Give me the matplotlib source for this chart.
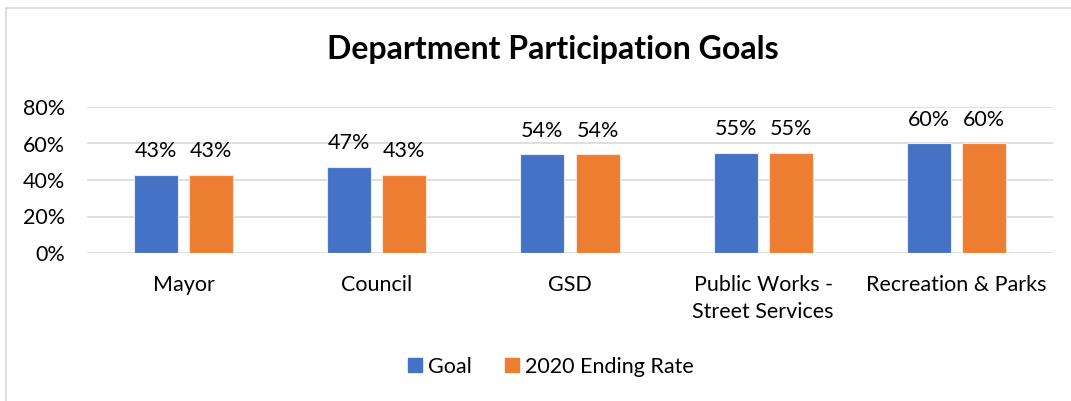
import numpy as np
import matplotlib.pyplot as plt
from matplotlib.patches import Rectangle
from matplotlib.lines import Line2D

# Values
departments = ["Mayor", "Council", "GSD", "Public Works -\nStreet Services", "Recreation & Parks"]
goal = [0.43, 0.47, 0.54, 0.55, 0.60]
ending_rate = [0.43, 0.43, 0.54, 0.55, 0.60]
yticks = [0.0, 0.2, 0.4, 0.6, 0.8]

blue = "#4472C4"
orange = "#ED7D31"
grid_col = "#D9D9D9"
fs = 15.5

plt.rcParams["font.family"] = ["Lato", "DejaVu Sans"]

fig = plt.figure(figsize=(10.71, 4.01), dpi=100)

# light chart-area frame like the Excel export
fig.patches.append(Rectangle((6 / 1071, -0.1), 1.2, 1.0 - 8 / 401 + 0.1,
                             transform=fig.transFigure, fill=False,
                             edgecolor=grid_col, linewidth=1.2))

ax = fig.add_axes([87 / 1071, 1 - 253 / 401, 966 / 1071, 146 / 401])

x = np.arange(len(departments))
w = 0.228
off = 0.143
b1 = ax.bar(x - off, goal, width=w, color=blue, edgecolor="#E6ECF7", linewidth=0.8, zorder=3)
b2 = ax.bar(x + off, ending_rate, width=w, color=orange, edgecolor="#FBE3D3", linewidth=0.8, zorder=3)

for bars, vals in ((b1, goal), (b2, ending_rate)):
    ax.bar_label(bars, labels=[f"{v:.0%}" for v in vals], padding=10,
                 fontsize=fs, color="#000000")

ax.set_xlim(-0.5, len(departments) - 0.5)
ax.set_ylim(0, 0.8)
ax.set_yticks(yticks)
ax.set_yticklabels([f"{v:.0%}" for v in yticks], fontsize=fs)
ax.set_xticks(x)
ax.set_xticklabels(departments, fontsize=fs, linespacing=1.45)
ax.tick_params(axis="both", length=0)
ax.tick_params(axis="x", pad=16)
ax.tick_params(axis="y", pad=16)

ax.grid(axis="y", color=grid_col, linewidth=1.2, zorder=0)
for s in ax.spines.values():
    s.set_visible(False)

fig.text(553 / 1071, 1 - 49 / 401, "Department Participation Goals",
         ha="center", va="center", fontsize=23, fontweight="bold")

handles = [Line2D([], [], marker="s", linestyle="", markersize=10, color=blue),
           Line2D([], [], marker="s", linestyle="", markersize=10, color=orange)]
fig.legend(handles, ["Goal", "2020 Ending Rate"], loc="center",
           bbox_to_anchor=(549 / 1071, 1 - 367 / 401), ncol=2, frameon=False,
           fontsize=fs, handletextpad=0.1, columnspacing=1.4, handlelength=1.0)

fig.savefig("out.png", dpi=100)
